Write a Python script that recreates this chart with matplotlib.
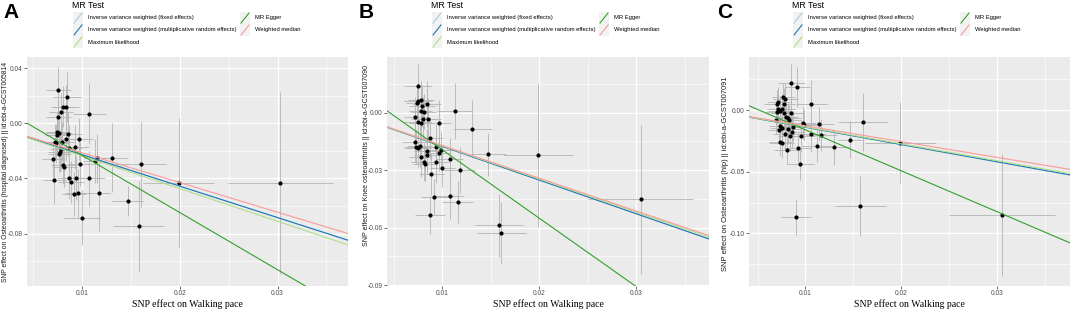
import matplotlib
matplotlib.use("Agg")
from matplotlib import pyplot as plt
from matplotlib.patches import Rectangle
from matplotlib.lines import Line2D
from matplotlib.ticker import MultipleLocator, FormatStrFormatter

plt.rcParams['axes.unicode_minus'] = False
plt.rcParams['font.family'] = ['Liberation Sans', 'DejaVu Sans']

# Panel A: Osteoarthritis (hospital diagnosed)
a_bx = [0.00761, 0.00847, 0.00809, 0.00843, 0.00785, 0.00760, 0.01078, 0.00751, 0.00765, 0.00860,
        0.00745, 0.00970, 0.00840, 0.00800, 0.00727, 0.00738, 0.00935, 0.00870, 0.00790, 0.00780,
        0.00770, 0.00710, 0.01130, 0.01157, 0.01307, 0.00986, 0.00810, 0.00822, 0.01600, 0.00874,
        0.00939, 0.01075, 0.00720, 0.00890, 0.01990, 0.03030, 0.01177, 0.00966, 0.00918, 0.01470,
        0.01003, 0.01580]
a_by = [0.0238, 0.0191, 0.0121, 0.0114, 0.0078, 0.0048, 0.0070, -0.0061, -0.0073, -0.0078,
        -0.0085, -0.0114, -0.0114, -0.0133, -0.0136, -0.0145, -0.0170, -0.0180, -0.0190, -0.0210,
        -0.0225, -0.0260, -0.0274, -0.0255, -0.0250, -0.0296, -0.0303, -0.0315, -0.0298, -0.0400,
        -0.0400, -0.0398, -0.0415, -0.0427, -0.0431, -0.0431, -0.0509, -0.0509, -0.0516, -0.0562,
        -0.0684, -0.0747]
a_sx = [0.0013, 0.0014, 0.0012, 0.0013, 0.0012, 0.0013, 0.0017, 0.0012, 0.0013, 0.0014,
        0.0012, 0.0014, 0.0013, 0.0012, 0.0012, 0.0013, 0.0014, 0.0013, 0.0012, 0.0013,
        0.0012, 0.0012, 0.0012, 0.0013, 0.0015, 0.0014, 0.0012, 0.0013, 0.0026, 0.0013,
        0.0014, 0.0016, 0.0012, 0.0013, 0.0036, 0.0054, 0.0011, 0.0014, 0.0012, 0.0016,
        0.0018, 0.0026]
a_sy = [0.017, 0.018, 0.015, 0.016, 0.014, 0.013, 0.022, 0.014, 0.015, 0.016,
        0.013, 0.015, 0.016, 0.014, 0.013, 0.014, 0.016, 0.017, 0.015, 0.014,
        0.013, 0.013, 0.016, 0.018, 0.025, 0.016, 0.014, 0.015, 0.031, 0.015,
        0.016, 0.020, 0.017, 0.015, 0.047, 0.066, 0.027, 0.018, 0.016, 0.011,
        0.020, 0.033]
a_slopes = {'ivw': -2.28, 'ml': -2.37, 'wm': -2.15}
a_egger = (-4.15, 0.0183)

# Panel B: Knee osteoarthritis
b_bx = [0.00752, 0.00783, 0.00752, 0.00745, 0.00793, 0.00845, 0.00780, 0.00810, 0.01130, 0.00725,
        0.00860, 0.00749, 0.00780, 0.00966, 0.00804, 0.01310, 0.00718, 0.00873, 0.00728, 0.00752,
        0.00773, 0.00935, 0.00990, 0.00840, 0.00970, 0.00842, 0.01475, 0.01990, 0.00780, 0.01080,
        0.00814, 0.00821, 0.00935, 0.01003, 0.01180, 0.00890, 0.03045, 0.00920, 0.01080, 0.01160,
        0.00876, 0.01585, 0.01610]
b_by = [0.0141, 0.0066, 0.0061, 0.0049, 0.0036, 0.0047, 0.0010, 0.0005, 0.0009, -0.0021,
        -0.0035, -0.0049, -0.0056, -0.0052, -0.0031, -0.0085, -0.0155, -0.0132, -0.0177, -0.0182,
        -0.0174, -0.0179, -0.0195, -0.0198, -0.0212, -0.0219, -0.0217, -0.0222, -0.0234, -0.0240,
        -0.0257, -0.0266, -0.0259, -0.0290, -0.0297, -0.0321, -0.0452, -0.0441, -0.0434, -0.0466,
        -0.0535, -0.0587, -0.0627]
b_sx = [0.0014, 0.0013, 0.0014, 0.0012, 0.0013, 0.0014, 0.0012, 0.0013, 0.0018, 0.0012,
        0.0013, 0.0014, 0.0012, 0.0013, 0.0012, 0.0020, 0.0013, 0.0014, 0.0012, 0.0013,
        0.0012, 0.0013, 0.0014, 0.0013, 0.0012, 0.0013, 0.0018, 0.0036, 0.0012, 0.0014,
        0.0013, 0.0012, 0.0014, 0.0013, 0.0016, 0.0013, 0.0054, 0.0014, 0.0015, 0.0016,
        0.0015, 0.0025, 0.0025]
b_sy = [0.011, 0.010, 0.009, 0.010, 0.011, 0.012, 0.010, 0.009, 0.0145, 0.010,
        0.011, 0.009, 0.010, 0.012, 0.011, 0.015, 0.010, 0.011, 0.009, 0.010,
        0.011, 0.012, 0.010, 0.011, 0.009, 0.010, 0.0113, 0.0375, 0.010, 0.011,
        0.010, 0.009, 0.011, 0.010, 0.012, 0.011, 0.039, 0.0095, 0.012, 0.011,
        0.010, 0.0165, 0.016]
b_slopes = {'ivw': -1.757, 'ml': -1.73, 'wm': -1.71}
b_egger = (-3.57, 0.0164)

# Panel C: Osteoarthritis (hip)
c_bx = [0.00854, 0.00917, 0.00767, 0.00788, 0.00718, 0.00700, 0.00774, 0.01060, 0.00760, 0.00718,
        0.00739, 0.00704, 0.00774, 0.00850, 0.00798, 0.00823, 0.00697, 0.01600, 0.00826, 0.00972,
        0.01143, 0.00990, 0.00736, 0.00875, 0.00753, 0.00823, 0.00725, 0.00857, 0.00788, 0.01063,
        0.01167, 0.00840, 0.00955, 0.01463, 0.00736, 0.00753, 0.01988, 0.01118, 0.01296, 0.00920,
        0.00805, 0.00944, 0.01574, 0.00903, 0.03052]
c_by = [0.0216, 0.0186, 0.0103, 0.0086, 0.0065, 0.0051, 0.0046, 0.0046, 0.0011, 0.0005,
        -0.0005, -0.0014, -0.0022, -0.0027, -0.0057, -0.0065, -0.0081, -0.0095, -0.0081, -0.0103,
        -0.0113, -0.0122, -0.0130, -0.0135, -0.0146, -0.0154, -0.0165, -0.0176, -0.0197, -0.0197,
        -0.0205, -0.0210, -0.0210, -0.0243, -0.0260, -0.0267, -0.0265, -0.0294, -0.0302, -0.0305,
        -0.0321, -0.0437, -0.0778, -0.0870, -0.0850]
c_sx = [0.0014, 0.0013, 0.0012, 0.0013, 0.0012, 0.0013, 0.0012, 0.0016, 0.0013, 0.0012,
        0.0013, 0.0012, 0.0013, 0.0014, 0.0012, 0.0013, 0.0012, 0.0026, 0.0013, 0.0014,
        0.0016, 0.0013, 0.0012, 0.0013, 0.0012, 0.0013, 0.0012, 0.0014, 0.0013, 0.0015,
        0.0016, 0.0013, 0.0014, 0.0013, 0.0012, 0.0013, 0.0037, 0.0015, 0.0016, 0.0014,
        0.0013, 0.0014, 0.0027, 0.0016, 0.0055]
c_sy = [0.016, 0.016, 0.012, 0.013, 0.012, 0.011, 0.013, 0.020, 0.012, 0.011,
        0.012, 0.011, 0.013, 0.012, 0.011, 0.012, 0.011, 0.0235, 0.012, 0.013,
        0.014, 0.012, 0.011, 0.012, 0.011, 0.012, 0.011, 0.013, 0.012, 0.014,
        0.013, 0.012, 0.013, 0.015, 0.011, 0.012, 0.0327, 0.013, 0.014, 0.012,
        0.012, 0.013, 0.0243, 0.0146, 0.0497]
c_slopes = {'ivw': -1.40, 'ml': -1.37, 'wm': -1.28}
c_egger = (-3.32, 0.0171)

methods = ["Inverse variance weighted (fixed effects)",
           "Inverse variance weighted (multiplicative random effects)",
           "Maximum likelihood", "MR Egger", "Weighted median"]
colors = ["#a6cee3", "#1f78b4", "#b2df8a", "#33a02c", "#fb9a99"]

W, H = 1072, 310


def fx(x):
    return x / W


def fy(y):
    return 1 - y / H


def panel(fig, left, right, bx, by, sx, sy, slopes, egger, xlim, ylim, ystep, ylabel,
          letter, letter_x, legend_x, ylab_x, ylab_size, ylab_y=171.5):
    ax = fig.add_axes([fx(left), fy(286), (right - left) / W, (286 - 57) / H])
    ax.set_facecolor("#EBEBEB")
    for s in ax.spines.values():
        s.set_visible(False)
    ax.set_xlim(xlim)
    ax.set_ylim(ylim)
    ax.xaxis.set_major_locator(MultipleLocator(0.01))
    ax.xaxis.set_minor_locator(MultipleLocator(0.005))
    ax.yaxis.set_major_locator(MultipleLocator(ystep))
    ax.yaxis.set_minor_locator(MultipleLocator(ystep / 2))
    ax.xaxis.set_major_formatter(FormatStrFormatter('%.2f'))
    ax.yaxis.set_major_formatter(FormatStrFormatter('%.2f'))
    ax.grid(which='major', color='white', lw=0.9)
    ax.grid(which='minor', color='white', lw=0.45)
    ax.set_axisbelow(True)
    ax.tick_params(which='major', length=2, width=0.5, color='#333333',
                   labelsize=4.8, labelcolor='#4D4D4D', pad=1)
    ax.tick_params(which='minor', length=0)

    ax.errorbar(bx, by, xerr=sx, yerr=sy, fmt='none', ecolor='#B3B3B3',
                elinewidth=0.6, capsize=0, zorder=2)
    ax.plot(bx, by, 'o', color='black', ms=2.0, zorder=3)

    ax.axline((0, 0), slope=slopes['ivw'], color=colors[0], lw=0.8, zorder=4)
    ax.axline((0, 0), slope=slopes['ivw'], color=colors[1], lw=0.8, zorder=4)
    ax.axline((0, 0), slope=slopes['ml'], color=colors[2], lw=0.8, zorder=4)
    ax.axline((0, egger[1]), slope=egger[0], color=colors[3], lw=0.8, zorder=4)
    ax.axline((0, 0), slope=slopes['wm'], color=colors[4], lw=0.8, zorder=4)

    ax.set_xlabel("SNP effect on Walking pace", family='Liberation Serif',
                  fontsize=7, labelpad=1.5)
    ax.set_ylabel(ylabel, fontsize=ylab_size, color='#1A1A1A')
    ax.yaxis.set_label_coords((ylab_x - left) / (right - left), (286 - ylab_y) / 229)

    fig.text(fx(letter_x), fy(13), letter, fontsize=15, fontweight='bold',
             va='center', ha='left')

    # legend
    fig.text(fx(legend_x), fy(6), "MR Test", fontsize=6.3, va='center', ha='left')
    kx = [legend_x + 1, legend_x + 168]
    slots = [(0, 18), (0, 30), (0, 42), (1, 18), (1, 30)]
    for (col, yc), name, c in zip(slots, methods, colors):
        x0 = kx[col]
        fig.add_artist(Rectangle((fx(x0), fy(yc + 6)), 10 / W, 12 / H,
                                 facecolor='#F2F2F2', edgecolor='none',
                                 transform=fig.transFigure))
        fig.add_artist(Line2D([fx(x0 + 1), fx(x0 + 9)], [fy(yc + 5), fy(yc - 5)],
                              color=c, lw=0.8, transform=fig.transFigure))
        fig.text(fx(x0 + 15), fy(yc), name, fontsize=4.2, color='black',
                 va='center', ha='left')
    return ax


fig = plt.figure(figsize=(W / 100, H / 100), dpi=100)

axA = panel(fig, 27, 348, a_bx, a_by, a_sx, a_sy, a_slopes, a_egger,
            (0.0044, 0.0372), (-0.118, 0.048), 0.04,
            "SNP effect on Osteoarthritis (hospital diagnosed) || id:ebi-a-GCST005814",
            "A", 3, 72, 9, 4.9)
axB = panel(fig, 387, 709, b_bx, b_by, b_sx, b_sy, b_slopes, b_egger,
            (0.00433, 0.0375), (-0.0904, 0.029), 0.03,
            "SNP effect on Knee osteoarthritis || id:ebi-a-GCST007090",
            "B", 359, 431, 369.5, 5.0, 155)
axC = panel(fig, 749, 1070, c_bx, c_by, c_sx, c_sy, c_slopes, c_egger,
            (0.00411, 0.0376), (-0.1427, 0.043), 0.05,
            "SNP effect on Osteoarthritis (hip) || id:ebi-a-GCST007091",
            "C", 717, 792, 729, 5.5, 174)

fig.savefig("out.png", dpi=100)
